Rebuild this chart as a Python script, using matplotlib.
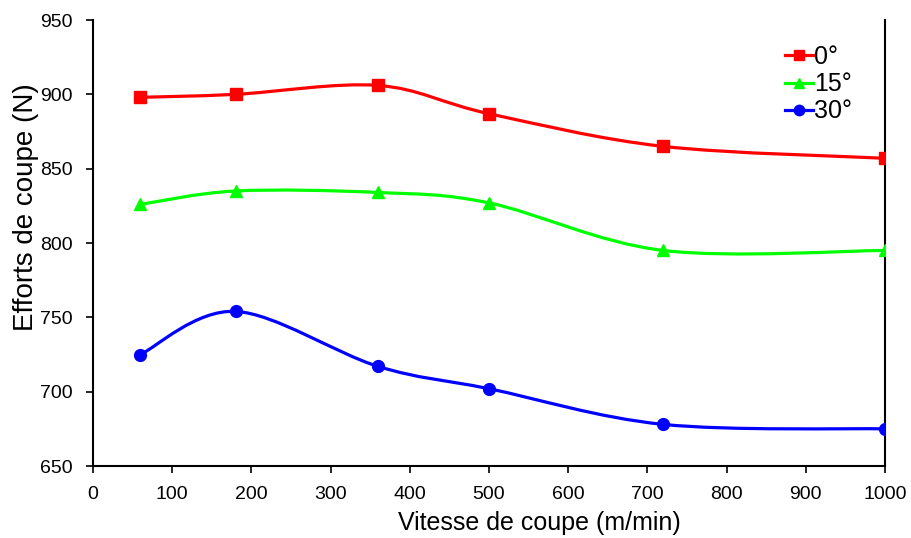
import numpy as np
import matplotlib
matplotlib.use("Agg")
import matplotlib.pyplot as plt
from matplotlib.path import Path
from matplotlib.patches import PathPatch

plt.rcParams['font.family'] = ['Liberation Sans', 'DejaVu Sans']

speeds = [60, 180, 360, 500, 720, 1000]
force_0 = [898, 900, 906, 887, 865, 857]
force_15 = [826, 835, 834, 827, 795, 795]
force_30 = [725, 754, 717, 702, 678, 675]
labels = ['0°', '15°', '30°']
colors = ['#ff0000', '#00ff00', '#0000ff']
markers = ['s', '^', 'o']


def smooth_path(x, y):
    # Excel-like smoothed line: cubic Bezier through points (Catmull-Rom)
    p = np.column_stack([x, y]).astype(float)
    n = len(p)
    verts = [tuple(p[0])]
    codes = [Path.MOVETO]
    for i in range(n - 1):
        p0 = p[i - 1] if i > 0 else p[i]
        p1 = p[i]
        p2 = p[i + 1]
        p3 = p[i + 2] if i + 2 < n else p[i + 1]
        c1 = p1 + (p2 - p0) / 6.0
        c2 = p2 - (p3 - p1) / 6.0
        verts += [tuple(c1), tuple(c2), tuple(p2)]
        codes += [Path.CURVE4] * 3
    return Path(verts, codes)


fig = plt.figure(figsize=(9.11, 5.38), dpi=100)
ax = fig.add_axes([0.102, 0.1338, 0.8695, 0.829])

for ys, lab, c, m in zip([force_0, force_15, force_30], labels, colors, markers):
    patch = PathPatch(smooth_path(speeds, ys), facecolor='none', edgecolor=c, lw=2.3, zorder=2)
    ax.add_patch(patch)
    ax.plot(speeds, ys, linestyle='none', marker=m, color=c, ms=8.5 if m != '^' else 9, zorder=3)
    ax.plot([], [], color=c, lw=2.3, marker=m, ms=7.5, label=lab)

ax.set_xlim(0, 1000)
ax.set_ylim(650, 950)
ax.set_xticks(np.arange(0, 1001, 100))
ax.set_yticks(np.arange(650, 951, 50))
ax.tick_params(axis='both', direction='out', length=5, width=1.2, colors='black',
               labelsize=14, pad=9.5)
ax.spines['top'].set_visible(False)
for s in ['left', 'right', 'bottom']:
    ax.spines[s].set_linewidth(1.5)
ax.set_xlabel('Vitesse de coupe (m/min)', fontsize=18)
ax.xaxis.set_label_coords(0.564, -0.100)
ax.set_ylabel('Efforts de coupe (N)', fontsize=20)
ax.yaxis.set_label_coords(-0.068, 0.58)

leg = ax.legend(loc='upper left', bbox_to_anchor=(785 / 911, 1 - 45 / 538),
                bbox_transform=fig.transFigure, frameon=False, fontsize=18,
                handlelength=1.1, handletextpad=0.05, labelspacing=0.13,
                borderpad=0, borderaxespad=0)

fig.savefig('out.png', dpi=100)
